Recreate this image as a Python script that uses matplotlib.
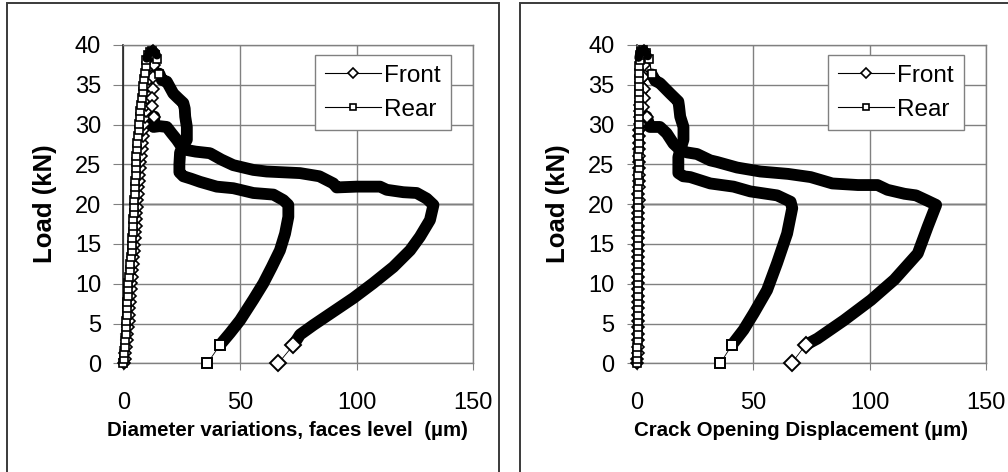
import matplotlib
matplotlib.use("Agg")
import matplotlib.pyplot as plt
from matplotlib.patches import Rectangle

plt.rcParams['font.family'] = ['Liberation Sans', 'DejaVu Sans']

# load levels of the loading branch (kN), shared by every gauge
load_up = [0.0, 0.5, 1.3, 2.1, 2.9, 3.7, 4.5, 5.3, 6.1, 6.9, 7.7, 8.5, 9.3, 10.1, 10.9,
           11.7, 12.5, 13.3, 14.1, 14.9, 15.7, 16.5, 17.3, 18.1, 18.9, 19.7, 20.5, 21.3,
           22.1, 22.9, 23.7, 24.5, 25.3, 26.1, 26.9, 27.7, 28.5, 29.3, 30.1, 30.9, 31.7,
           32.5, 33.3, 34.1, 34.9, 35.7, 36.5, 37.3, 38.1, 38.7, 39.1]

# --- left panel: diameter variations (um) ---
dv_front_up = [0.3, 0.5, 0.8, 1.1, 1.4, 1.7, 2.0, 2.2, 2.4, 2.6, 2.8, 3.0, 3.2, 3.4, 3.6,
               3.8, 4.0, 4.2, 4.4, 4.6, 4.8, 5.0, 5.2, 5.4, 5.6, 5.8, 6.0, 6.2, 6.4, 6.6,
               6.8, 7.0, 7.3, 7.5, 7.8, 8.0, 8.3, 8.6, 8.9, 9.2, 9.5, 9.8, 10.0, 10.3,
               10.6, 10.9, 11.1, 11.4, 11.7, 12.0, 12.4]
dv_rear_up = [0.0, 0.1, 0.4, 0.7, 0.9, 1.0, 1.2, 1.3, 1.4, 1.6, 1.7, 1.9, 2.0, 2.1, 2.4,
              2.7, 3.0, 3.3, 3.6, 3.7, 3.8, 4.0, 4.1, 4.3, 4.4, 4.5, 4.7, 4.8, 4.9, 5.0,
              5.2, 5.3, 5.4, 5.6, 5.7, 6.0, 6.3, 6.6, 6.8, 7.0, 7.2, 7.6, 7.9, 8.2, 8.5,
              8.9, 9.2, 9.5, 9.9, 10.6, 11.5]
# cluster of points at the peak load
dv_top_x = [10.0, 10.6, 11.5, 12.4, 13.6, 14.4]
dv_top_y = [38.3, 38.8, 39.2, 39.3, 39.1, 38.7]
# post-peak points with visible markers
dv_front_peak_x = [12.8, 13.0, 12.8, 12.5, 12.2, 12.1, 13.3]
dv_front_peak_y = [39.2, 37.5, 36.0, 34.5, 33.3, 32.3, 31.0]
dv_rear_peak_x = [12.1, 13.6, 14.6, 15.4]
dv_rear_peak_y = [39.2, 38.7, 38.2, 36.4]
# dense softening branch
dv_front_x = [13.3, 12.9, 15.5, 18.6, 20.7, 22.9, 25.0, 27.2, 31.0, 37.1, 42.0, 47.1, 55.7,
              61.4, 75.7, 84.0, 90.0, 91.4, 100.0, 110.0, 112.9, 120.0, 125.7, 130.0,
              132.9, 131.4, 127.1, 122.9, 115.7, 107.0, 98.6, 90.0, 81.4, 75.7, 72.9]
dv_front_y = [31.0, 29.7, 29.8, 29.7, 28.9, 28.1, 27.2, 26.8, 26.6, 26.4, 25.6, 24.9, 24.3,
              24.1, 23.9, 23.5, 22.6, 22.1, 22.2, 22.2, 21.8, 21.5, 21.4, 20.7, 19.9,
              18.0, 15.9, 14.2, 12.1, 10.05, 8.2, 6.5, 4.8, 3.6, 2.3]
dv_rear_x = [15.4, 16.5, 18.6, 21.4, 23.5, 25.7, 26.3, 26.5, 27.2, 27.2, 25.5, 24.3, 24.0,
             24.0, 25.7, 29.0, 32.9, 40.0, 47.1, 50.0, 55.7, 60.0, 64.3, 68.6, 70.7, 70.7,
             69.3, 67.1, 63.6, 60.0, 55.7, 50.0, 45.7, 41.4]
dv_rear_y = [36.4, 35.6, 35.4, 33.9, 33.3, 32.7, 32.0, 31.0, 29.7, 28.1, 27.2, 26.5, 25.0,
             24.0, 23.5, 23.2, 22.8, 22.2, 22.0, 21.8, 21.4, 21.3, 21.2, 20.5, 19.9, 18.4,
             16.3, 14.2, 12.1, 10.05, 8.0, 5.4, 3.8, 2.3]
# unloading end points
dv_front_end_x = [72.9, 66.4]
dv_front_end_y = [2.3, 0.0]
dv_rear_end_x = [41.4, 36.0]
dv_rear_end_y = [2.3, 0.0]

# --- right panel: crack opening displacement (um) ---
cod_front_up = [0.3, 0.3, 0.4, 0.4, 0.5, 0.5, 0.5, 0.4, 0.5, 0.5, 0.6, 0.5, 0.5, 0.6, 0.6,
                0.5, 0.6, 0.6, 0.7, 0.6, 0.6, 0.7, 0.7, 0.6, 0.7, 0.7, 0.8, 0.7, 0.8, 0.8,
                0.9, 0.8, 0.9, 1.0, 1.0, 1.1, 1.2, 1.2, 1.3, 1.4, 1.5, 1.6, 1.7, 1.8, 1.9,
                2.0, 2.1, 2.2, 2.4, 2.6, 2.9]
cod_rear_up = [0.0, 0.1, 0.2, 0.3, 0.4, 0.4, 0.5, 0.5, 0.5, 0.6, 0.5, 0.6, 0.6, 0.5, 0.6,
               0.6, 0.5, 0.6, 0.6, 0.7, 0.6, 0.6, 0.7, 0.6, 0.7, 0.7, 0.6, 0.7, 0.7, 0.8,
               0.7, 0.8, 0.8, 0.7, 0.8, 0.8, 0.9, 0.8, 0.9, 0.9, 1.0, 0.9, 1.0, 1.0, 1.1,
               1.0, 1.1, 1.2, 1.3, 1.5, 2.0]
cod_top_x = [0.8, 1.2, 2.0, 3.0, 4.0, 4.8]
cod_top_y = [38.4, 39.0, 39.3, 39.4, 39.1, 38.6]
cod_front_peak_x = [3.2, 3.0, 2.9, 3.0, 3.0, 2.9, 4.3]
cod_front_peak_y = [39.2, 37.5, 36.0, 34.5, 33.3, 32.2, 31.0]
cod_rear_peak_x = [2.6, 4.0, 5.4, 6.5]
cod_rear_peak_y = [39.4, 39.0, 38.2, 36.3]
cod_front_x = [4.3, 5.7, 10.0, 12.9, 15.8, 18.7, 21.6, 25.9, 31.6, 34.5, 43.1, 53.1, 65.0,
               74.7, 84.0, 95.0, 103.4, 107.7, 115.0, 119.9, 124.3, 128.6, 125.0, 120.7,
               110.6, 100.6, 89.0, 77.6, 72.5]
cod_front_y = [31.0, 29.7, 29.7, 28.9, 27.6, 26.8, 26.5, 26.3, 25.5, 25.3, 24.6, 24.1, 23.8,
               23.4, 22.6, 22.4, 22.4, 21.8, 21.3, 21.1, 20.5, 19.9, 17.2, 13.8, 10.5,
               7.95, 5.4, 3.1, 2.3]
cod_rear_x = [6.5, 8.0, 10.0, 14.4, 17.9, 18.2, 18.7, 20.1, 20.1, 18.7, 17.9, 17.9, 17.9,
              20.0, 23.0, 31.6, 41.6, 48.8, 60.3, 66.1, 66.8, 64.6, 60.3, 56.0, 50.3, 45.9,
              40.9]
cod_rear_y = [36.3, 35.5, 35.2, 33.9, 32.9, 32.3, 31.0, 29.7, 28.1, 26.8, 25.9, 24.5, 23.9,
              23.5, 23.4, 22.6, 22.2, 21.6, 21.1, 20.3, 19.5, 16.3, 12.6, 9.2, 6.3, 4.2, 2.3]
cod_front_end_x = [72.5, 66.5]
cod_front_end_y = [2.3, 0.0]
cod_rear_end_x = [40.9, 35.9]
cod_rear_end_y = [2.3, 0.0]

x_ticks = [0, 50, 100, 150]
y_ticks = [0, 5, 10, 15, 20, 25, 30, 35, 40]

grid_col = '#808080'

fig = plt.figure(figsize=(10.08, 4.72), dpi=100)

# panel frames (bottom edges and the far right edge lie outside the picture)
fig.add_artist(Rectangle((7 / 1008, -0.05), 492 / 1008, 1.05 - 3 / 472, transform=fig.transFigure,
                         fill=False, edgecolor='#3a3a3a', lw=1.4))
fig.add_artist(Rectangle((520 / 1008, -0.05), 0.6, 1.05 - 3 / 472, transform=fig.transFigure,
                         fill=False, edgecolor='#3a3a3a', lw=1.4, clip_on=False))


def draw_series(ax, up_x, peak_x, peak_y, dense_x, dense_y, end_x, end_y, marker, label):
    ms = 6.2 if marker == 's' else 6.5
    # thin connecting line
    ax.plot(up_x + peak_x, load_up + peak_y, '-', color='black', lw=0.8, zorder=3, clip_on=False)
    ax.plot(end_x, end_y, '-', color='black', lw=0.6, zorder=3, clip_on=False)
    # dense softening band
    ax.plot(dense_x, dense_y, '-', color='black', lw=8.5, solid_capstyle='round',
            solid_joinstyle='round', zorder=4)
    ax.plot(up_x + peak_x, load_up + peak_y, marker, mfc='white', mec='black', ms=ms, mew=1.2,
            zorder=5, clip_on=False)
    ax.plot(end_x, end_y, marker, mfc='white', mec='black', ms=ms + 1.5, mew=1.4,
            zorder=5, clip_on=False)
    # legend proxy
    ax.plot([], [], '-', marker=marker, color='black', lw=0.8, mfc='white', mec='black',
            ms=4.5 if marker == 's' else 5, mew=1.2, label=label)


def style_axes(ax, xlabel, top_x, top_y):
    ax.plot(top_x, top_y, '-', color='black', lw=6, solid_capstyle='round', zorder=6,
            clip_on=False)
    ax.set_xlim(0, 150)
    ax.set_ylim(0, 40)
    ax.set_xticks(x_ticks)
    ax.set_yticks(y_ticks)
    ax.grid(True, color=grid_col, lw=1.0, zorder=0)
    ax.axhline(20, color='black', lw=1.0, zorder=1)
    for side in ['top', 'right', 'bottom']:
        ax.spines[side].set_color(grid_col)
        ax.spines[side].set_linewidth(1.0)
    ax.spines['left'].set_color('#202020')
    ax.spines['left'].set_linewidth(1.2)
    ax.tick_params(axis='x', direction='out', length=5, color=grid_col, labelsize=17, pad=16)
    ax.tick_params(axis='y', direction='out', length=7, color=grid_col, labelsize=17, pad=9)
    ax.set_xlabel(xlabel, fontsize=14.8, fontweight='bold')
    ax.xaxis.set_label_coords(0.47, -0.18)
    ax.set_ylabel('Load (kN)', fontsize=18.5, fontweight='bold')
    ax.yaxis.set_label_coords(-0.19, 0.5)
    leg = ax.legend(loc='upper left', bbox_to_anchor=(0.548, 0.969), borderaxespad=0,
                    fontsize=17.5, frameon=True, fancybox=False, handlelength=2.3,
                    handletextpad=0.15, borderpad=0.4, labelspacing=0.5)
    leg.get_frame().set_edgecolor(grid_col)
    leg.get_frame().set_linewidth(1.0)
    leg.get_frame().set_alpha(1)
    leg.set_zorder(10)


ax1 = fig.add_axes([0.1224, 0.2303, 0.3472, 0.6744])
draw_series(ax1, dv_front_up, dv_front_peak_x, dv_front_peak_y, dv_front_x, dv_front_y,
            dv_front_end_x, dv_front_end_y, 'D', 'Front')
draw_series(ax1, dv_rear_up, dv_rear_peak_x, dv_rear_peak_y, dv_rear_x, dv_rear_y,
            dv_rear_end_x, dv_rear_end_y, 's', 'Rear')
style_axes(ax1, 'Diameter variations, faces level  (\u00b5m)', dv_top_x, dv_top_y)

ax2 = fig.add_axes([0.6316, 0.2303, 0.3466, 0.6744])
draw_series(ax2, cod_front_up, cod_front_peak_x, cod_front_peak_y, cod_front_x, cod_front_y,
            cod_front_end_x, cod_front_end_y, 'D', 'Front')
draw_series(ax2, cod_rear_up, cod_rear_peak_x, cod_rear_peak_y, cod_rear_x, cod_rear_y,
            cod_rear_end_x, cod_rear_end_y, 's', 'Rear')
style_axes(ax2, 'Crack Opening Displacement (\u00b5m)', cod_top_x, cod_top_y)

fig.savefig('out.png', dpi=100)
